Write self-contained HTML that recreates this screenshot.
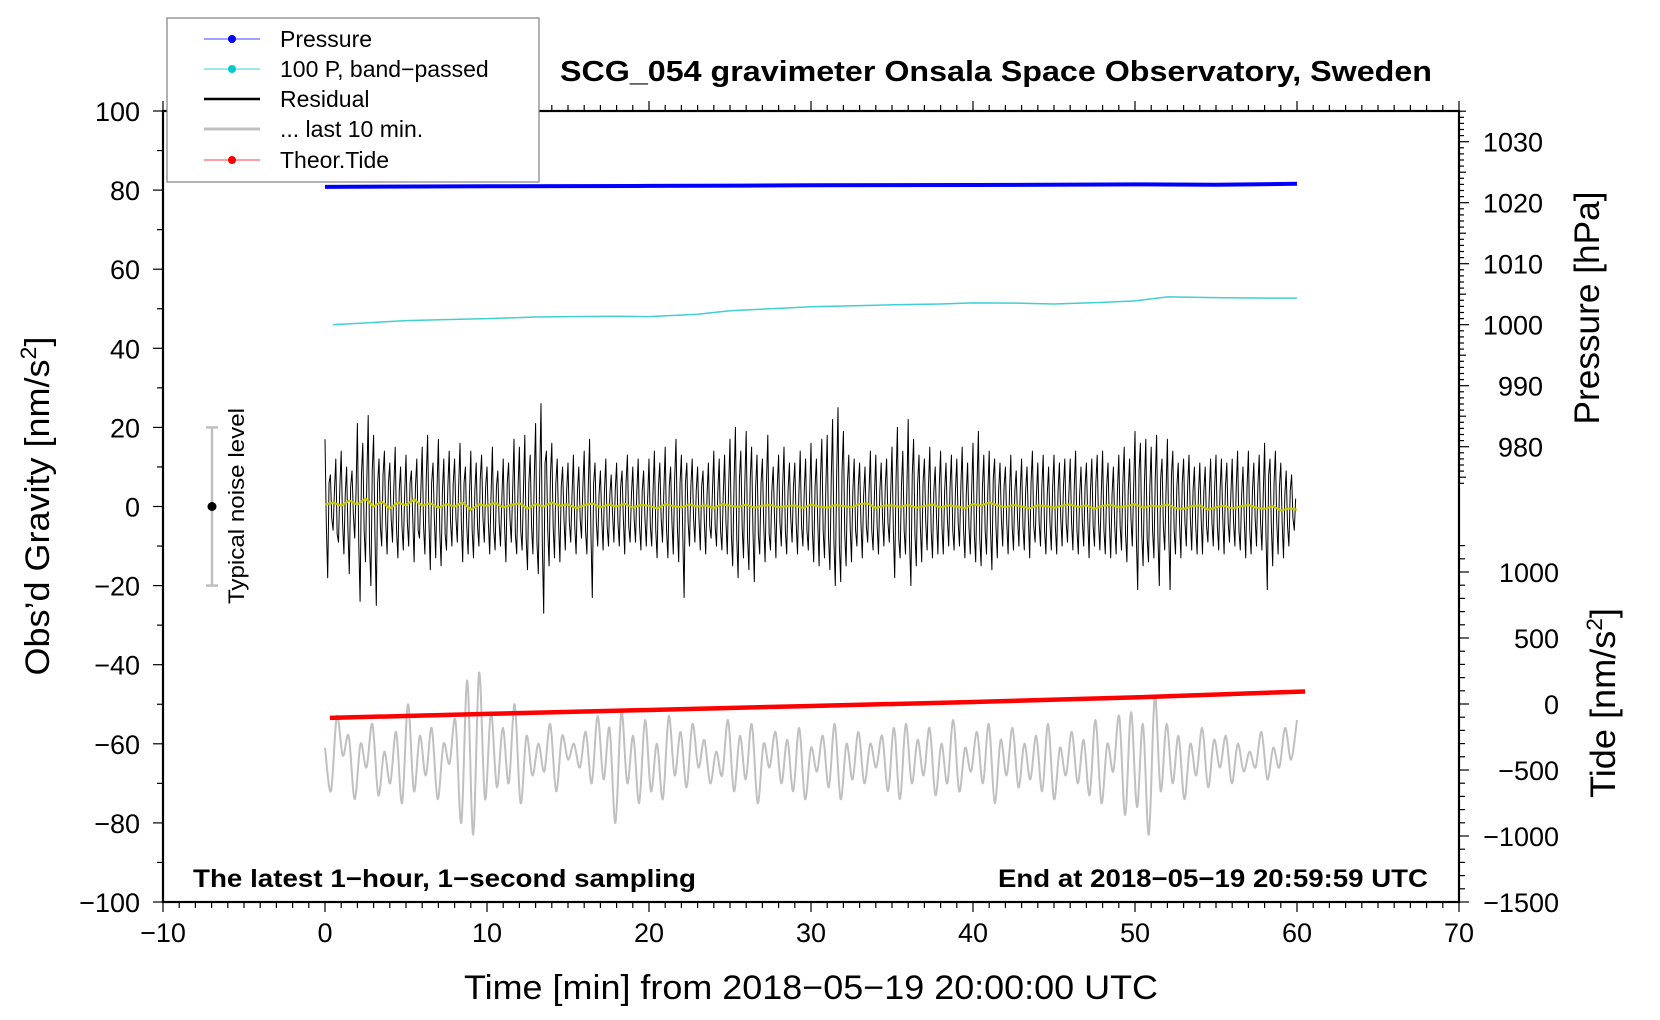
<!DOCTYPE html>
<html><head><meta charset="utf-8">
<style>
html,body{margin:0;padding:0;background:#fff;}
svg{display:block;font-family:"Liberation Sans",Arial,sans-serif;}
</style></head>
<body>
<svg id="chart" width="1660" height="1020" viewBox="0 0 1660 1020" xmlns="http://www.w3.org/2000/svg">
<rect width="1660" height="1020" fill="#fff"/>
<g id="series"></g>
<g id="axes"></g>
<g id="labels"></g>
</svg>
<script>
// ---- data ----
const xTicks = [-10,0,10,20,30,40,50,60,70];
const gTicks = [-100,-80,-60,-40,-20,0,20,40,60,80,100];
const pTicks = [980,990,1000,1010,1020,1030];
const tTicks = [-1500,-1000,-500,0,500,1000];
const pressureTimes = [0,10,20,25.7,30,40,50,55,60];
const pressureValues = [1022.6,1022.7,1022.75,1022.8,1022.85,1022.9,1023.0,1022.95,1023.1];
const bandTimes = [0.5,2,5,8,10,13,15,18,20,23,25,28,30,33,35,38,40,43,45,48,50,52,55,58,60];
const bandValues = [46,46.3,47,47.3,47.5,47.9,48,48.1,48,48.6,49.5,50.1,50.5,50.8,51,51.2,51.5,51.4,51.2,51.6,52,53,52.8,52.7,52.7];
const tideTimes = [0.3,10,20,30,40,50,60.5];
const tideValues = [-105,-75,-45,-15,15,50,95];
const residualValues = [
17,-18,8,-6,12,-9, 14,-12,10,-17,9,-8, 21,-24,16,-14,23,-20, 18,-25,12,-10,14,-12, 11,-9,15,-13,10,-11,
13,-10,9,-14,12,-8, 15,-12,18,-16,11,-13, 17,-15,12,-11,14,-10, 12,-9,16,-14,10,-12, 14,-13,11,-10,13,-9,
10,-12,15,-11,9,-10, 12,-14,11,-9,17,-12, 15,-11,18,-16,13,-12, 21,-17,26,-27,14,-15, 16,-13,12,-14,10,-11,
11,-9,13,-12,10,-8, 14,-12,17,-23,11,-10, 9,-11,12,-10,8,-9, 11,-10,9,-12,13,-9, 10,-9,12,-11,9,-10,
12,-10,14,-13,11,-9, 15,-13,10,-12,17,-14, 13,-23,11,-10,12,-9, 10,-11,9,-12,11,-8, 14,-10,12,-11,13,-12,
17,-15,20,-18,14,-13, 19,-16,15,-19,13,-12, 12,-14,18,-11,10,-13, 13,-10,15,-12,11,-9, 11,-12,14,-10,12,-11,
16,-14,12,-15,17,-13, 18,-16,22,-20,25,-19, 19,-15,13,-14,12,-10, 11,-13,10,-9,14,-11, 13,-12,11,-10,12,-9,
15,-18,20,-13,14,-12, 22,-20,17,-15,13,-14, 12,-11,15,-13,10,-12, 14,-12,11,-10,13,-11, 12,-10,15,-13,11,-12,
16,-14,19,-15,13,-12, 14,-16,12,-13,11,-10, 10,-12,13,-11,9,-10, 12,-11,10,-13,14,-9, 11,-10,13,-12,10,-11,
13,-12,11,-10,12,-9, 12,-11,14,-12,10,-10, 11,-13,12,-10,13,-11, 14,-12,11,-13,10,-12, 13,-11,15,-14,12,-10,
19,-21,16,-15,17,-14, 15,-13,18,-20,12,-11, 17,-21,14,-12,11,-13, 12,-10,13,-11,10,-12, 11,-12,10,-9,12,-10,
13,-11,12,-12,11,-9, 12,-10,14,-11,10,-13, 14,-12,11,-10,13,-11, 16,-21,12,-15,14,-12, 11,-13,9,-10,8,-6];
const residualBetween = [
-5,6,-3,4,-7,5, -4,3,-6,5,-2,4, -9,8,-6,7,-10,9, -7,6,-5,8,-4,6, -3,5,-6,4,-5,3,
-4,6,-3,5,-6,4, -5,7,-4,6,-3,5, -6,4,-7,5,-4,6, -3,5,-4,6,-5,3, -6,4,-5,7,-3,5,
-4,3,-6,5,-4,2, -5,6,-3,4,-7,5, -6,4,-8,6,-5,7, -9,7,-10,11,-6,8, -5,6,-4,5,-3,4,
-4,3,-5,4,-3,5, -6,5,-7,6,-4,3, -3,4,-5,3,-2,4, -4,5,-3,6,-5,3, -3,4,-5,4,-3,2,
-5,4,-6,5,-3,4, -6,5,-4,7,-5,6, -7,6,-4,5,-3,4, -3,5,-4,3,-5,4, -5,4,-6,3,-4,5,
-7,6,-8,7,-5,6, -8,7,-6,5,-7,6, -5,6,-7,4,-3,5, -4,5,-6,4,-3,5, -4,3,-5,4,-6,3,
-6,5,-4,7,-6,5, -8,7,-9,8,-10,9, -7,6,-5,4,-6,5, -4,3,-5,4,-6,3, -5,4,-3,5,-4,3,
-6,7,-8,5,-6,4, -9,8,-7,6,-5,6, -4,5,-6,4,-3,5, -5,4,-3,5,-6,4, -4,5,-6,3,-5,4,
-7,6,-8,5,-6,4, -6,7,-5,4,-3,5, -4,3,-5,4,-3,4, -5,4,-3,6,-5,3, -4,5,-6,3,-4,5,
-5,4,-3,5,-4,3, -4,5,-6,3,-4,5, -3,4,-5,6,-4,3, -6,5,-4,3,-5,4, -5,6,-7,4,-3,5,
-8,9,-7,6,-8,5, -6,7,-8,7,-5,4, -7,8,-6,5,-4,6, -4,5,-3,4,-5,3, -3,4,-5,3,-4,5,
-5,4,-3,5,-4,3, -4,5,-6,3,-4,5, -6,4,-3,5,-4,3, -7,8,-5,6,-4,5, -4,3,-5,4,-3,2];
const smoothValues = [
0.5,1,0.2,1.5,0.5,2,0,1.2,-0.5,1,0.3,1.8,0.2,0.8,-0.3,0.6,0,1,-0.8,0.5,0.2,0.9,-0.2,0.4,0.8,-0.5,0.6,0,1,0.2,
0.5,-0.4,0.3,0.8,-0.2,0.5,0,0.7,-0.3,0.4,0.2,-0.5,0.6,0.1,-0.2,0.5,0,0.3,-0.4,0.6,0.2,-0.1,0.5,-0.3,0.2,0.4,-0.2,0.1,0.3,-0.4,
0.5,0,-0.3,0.4,0.1,-0.2,0.6,0.8,-0.4,0.2,0.3,-0.1,0.4,-0.3,0.1,0.5,-0.2,0.3,0,-0.4,0.6,0.2,1,0.3,-0.2,0.4,0,-0.5,0.3,0.1,
-0.3,0.2,0.5,-0.1,0.3,-0.6,0.2,0.4,-0.2,0.1,0.6,-0.3,0.2,0,0.5,-0.4,-0.6,0.1,0.3,-0.8,-0.2,0.2,-0.5,0,0.4,-0.3,-0.6,0.1,-1,-0.5,-0.8];
const lastTenValues = [-61,-72,-53,-63,-58,-74,-60,-66,-55,-73,-62,-70,-57,-75,-50,-72,-58,-68,-56,-74,-60,-65,-54,-80,-44,-83,-42,-74,-52,-71,-56,-70,-50,-75,-58,-68,-60,-67,-55,-72,-58,-64,-60,-66,-57,-70,-53,-69,-56,-80,-52,-70,-58,-75,-54,-72,-60,-74,-53,-68,-57,-71,-55,-66,-59,-70,-62,-68,-54,-72,-58,-69,-55,-75,-60,-66,-57,-70,-59,-72,-56,-74,-61,-67,-58,-71,-55,-74,-60,-69,-57,-70,-60,-66,-58,-72,-56,-74,-55,-70,-59,-68,-56,-73,-60,-70,-54,-72,-61,-67,-57,-70,-55,-75,-59,-68,-56,-71,-60,-69,-58,-72,-55,-74,-61,-68,-57,-70,-59,-73,-54,-75,-60,-67,-53,-78,-52,-76,-55,-83,-48,-72,-55,-70,-58,-74,-60,-68,-56,-71,-59,-66,-58,-70,-60,-67,-62,-66,-57,-69,-61,-66,-56,-64,-54];

// ---- scales ----
const L=163,R=1459,T=111,B=902;
const sx = t => L + (t+10)*(R-L)/80;
const sg = v => B - (v+100)*(B-T)/200;
const sp = p => 141.7 + (1030-p)*6.1;
const st = v => 704 - v*0.132;
const NS="http://www.w3.org/2000/svg";
function mk(tag, attrs, parent){const e=document.createElementNS(NS,tag);for(const k in attrs)e.setAttribute(k,attrs[k]);parent.appendChild(e);return e;}
const axes=document.getElementById('axes'), series=document.getElementById('series'), labels=document.getElementById('labels');
const fmt = v => String(v).replace('-','\u2212');

function poly(xs, ys, stroke, w, name){
  const pts = xs.map((x,i)=>x.toFixed(2)+','+ys[i].toFixed(2)).join(' ');
  const e = mk('polyline',{points:pts,fill:'none',stroke:stroke,'stroke-width':w,'stroke-linejoin':'round'},series);
  
  
  return e;
}
function smoothPath(xs, ys, stroke, w, name){
  let d='M'+xs[0].toFixed(2)+','+ys[0].toFixed(2);
  for(let i=0;i<xs.length-1;i++){
    const x0=xs[Math.max(0,i-1)],y0=ys[Math.max(0,i-1)],x1=xs[i],y1=ys[i],x2=xs[i+1],y2=ys[i+1],x3=xs[Math.min(xs.length-1,i+2)],y3=ys[Math.min(xs.length-1,i+2)];
    const c1x=x1+(x2-x0)/6,c1y=y1+(y2-y0)/6,c2x=x2-(x3-x1)/6,c2y=y2-(y3-y1)/6;
    d+=' C'+c1x.toFixed(2)+','+c1y.toFixed(2)+' '+c2x.toFixed(2)+','+c2y.toFixed(2)+' '+x2.toFixed(2)+','+y2.toFixed(2);
  }
  const e=mk('path',{d:d,fill:'none',stroke:stroke,'stroke-width':w},series);
  
  
}
smoothPath(lastTenValues.map((v,i)=>sx(i*60/(lastTenValues.length-1))), lastTenValues.map(sg), '#c0c0c0', 2, 'last-10-min-line');
// interleave residual samples
const resT=[], resV=[];
residualValues.forEach((v,i)=>{
  const n=residualValues.length;
  resT.push(i*60/n); resV.push(v);
  resT.push((i+0.5)*60/n); resV.push(residualBetween[i]);
});
poly(resT.map(sx), resV.map(sg), '#000', 1, 'residual-line');
poly(smoothValues.map((v,i)=>sx(i*60/(smoothValues.length-1))), smoothValues.map(sg), '#c8c800', 2.2, 'smoothed-residual-line');
poly(bandTimes.map(sx), bandValues.map(sg), '#40d0d0', 1.5, 'band-passed-pressure-line');
poly(pressureTimes.map(sx), pressureValues.map(sp), '#0000ff', 4, 'pressure-line');
poly(tideTimes.map(sx), tideValues.map(st), '#ff0000', 4.5, 'tide-line');

const frame = mk('rect',{x:L,y:T,width:R-L,height:B-T,fill:'none',stroke:'#000','stroke-width':2.2},axes);



for(let t=-10;t<=70;t++){
  const major = t%10===0, x=sx(t);
  mk('line',{x1:x,y1:B,x2:x,y2:B+(major?10:6),stroke:'#000','stroke-width':1.2},axes);
  mk('line',{x1:x,y1:T,x2:x,y2:T-(major?10:6),stroke:'#000','stroke-width':1.2},axes);
}
xTicks.forEach(t=>{
  const e=mk('text',{x:sx(t),y:B+40,'font-size':27,'text-anchor':'middle'},labels);
  e.textContent=fmt(t);
  
  
});
for(let v=-100;v<=100;v+=10){
  const major=v%20===0;
  mk('line',{x1:L,y1:sg(v),x2:L-(major?10:6),y2:sg(v),stroke:'#000','stroke-width':1.2},axes);
}
gTicks.forEach(v=>{
  const e=mk('text',{x:140,y:sg(v)+10,'font-size':27,'text-anchor':'end'},labels);
  e.textContent=fmt(v);
  
  
});
for(let p=1035;p>=974;p--){
  const y=sp(p); if(y<T) continue;
  const len = p%10===0?10:(p%5===0?7:5);
  mk('line',{x1:R,y1:y,x2:R+len,y2:y,stroke:'#000','stroke-width':1.2},axes);
}
pTicks.forEach(p=>{
  const e=mk('text',{x:1543,y:sp(p)+10,'font-size':27,'text-anchor':'end'},labels);
  e.textContent=p;
  
  
});
for(let v=-1500;v<=1200;v+=100){
  const len=v%500===0?10:6;
  mk('line',{x1:R,y1:st(v),x2:R+len,y2:st(v),stroke:'#000','stroke-width':1.2},axes);
}
tTicks.forEach(v=>{
  const e=mk('text',{x:1559,y:st(v)+10,'font-size':27,'text-anchor':'end'},labels);
  e.textContent=fmt(v);
  
  
});

mk('line',{x1:212,y1:sg(20),x2:212,y2:sg(-20),stroke:'#c0c0c0','stroke-width':2.5},axes);
mk('line',{x1:206,y1:sg(20),x2:218,y2:sg(20),stroke:'#c0c0c0','stroke-width':2.5},axes);
mk('line',{x1:206,y1:sg(-20),x2:218,y2:sg(-20),stroke:'#c0c0c0','stroke-width':2.5},axes);
mk('circle',{cx:212,cy:sg(0),r:4.5,fill:'#000'},axes);
</script>
<svg style="position:absolute;left:0;top:0" width="1660" height="1020" font-family="Liberation Sans, Arial, sans-serif">
  <text x="996" y="81" font-size="29" font-weight="bold" text-anchor="middle" textLength="872" lengthAdjust="spacingAndGlyphs">SCG_054 gravimeter Onsala Space Observatory, Sweden</text>
  <text x="193" y="887" font-size="25" font-weight="bold" textLength="503" lengthAdjust="spacingAndGlyphs">The latest 1−hour, 1−second sampling</text>
  <text x="1428" y="887" font-size="25" font-weight="bold" text-anchor="end" textLength="430" lengthAdjust="spacingAndGlyphs">End at 2018−05−19 20:59:59 UTC</text>
  <text x="811" y="999" font-size="34" text-anchor="middle" textLength="694" lengthAdjust="spacingAndGlyphs">Time [min] from 2018−05−19 20:00:00 UTC</text>
  <text transform="translate(49,506) rotate(-90)" font-size="34" text-anchor="middle" textLength="339" lengthAdjust="spacingAndGlyphs">Obs’d Gravity [nm/s<tspan font-size="22" dy="-13">2</tspan><tspan dy="13">]</tspan></text>
  <text transform="translate(1599,308) rotate(-90)" font-size="35" text-anchor="middle" textLength="233" lengthAdjust="spacingAndGlyphs">Pressure [hPa]</text>
  <text transform="translate(1615,703) rotate(-90)" font-size="35" text-anchor="middle" textLength="190" lengthAdjust="spacingAndGlyphs">Tide [nm/s<tspan font-size="22" dy="-13">2</tspan><tspan dy="13">]</tspan></text>
  <text transform="translate(244,506) rotate(-90)" font-size="22" text-anchor="middle" textLength="196" lengthAdjust="spacingAndGlyphs">Typical noise level</text>
  <g>
    <rect x="167" y="18" width="372" height="164" fill="#fff" stroke="#808080" stroke-width="1.2"/>
    <g>
      <line x1="204" y1="39" x2="260" y2="39" stroke="#4040ff" stroke-width="1"/><circle cx="232" cy="39" r="4" fill="#0000ff"/>
      <text x="280" y="47" font-size="23">Pressure</text></g>
    <g>
      <line x1="204" y1="69" x2="260" y2="69" stroke="#40d0d0" stroke-width="1"/><circle cx="232" cy="69" r="4" fill="#00cccc"/>
      <text x="280" y="77" font-size="23">100 P, band−passed</text></g>
    <g>
      <line x1="204" y1="99" x2="260" y2="99" stroke="#000" stroke-width="2.5"/>
      <text x="280" y="107" font-size="23">Residual</text></g>
    <g>
      <line x1="204" y1="129" x2="260" y2="129" stroke="#c0c0c0" stroke-width="3"/>
      <text x="280" y="137" font-size="23">... last 10 min.</text></g>
    <g>
      <line x1="204" y1="160" x2="260" y2="160" stroke="#ff4040" stroke-width="1"/><circle cx="232" cy="160" r="4" fill="#ff0000"/>
      <text x="280" y="168" font-size="23">Theor.Tide</text></g>
  </g>
</svg>
</body></html>
